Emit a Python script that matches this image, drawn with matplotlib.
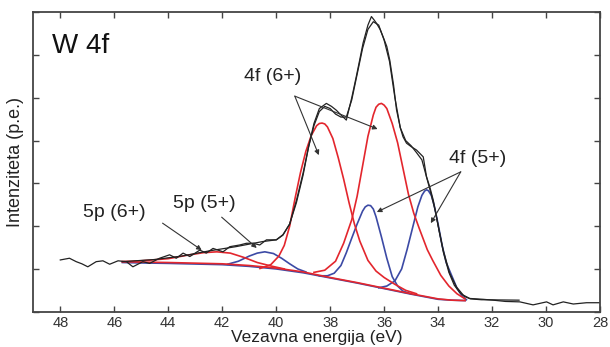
import matplotlib
matplotlib.use("Agg")
import matplotlib.pyplot as plt

plt.rcParams['font.family'] = ['Liberation Sans', 'DejaVu Sans']

# binding energy (eV) / intensity (arb. units)
raw_x = [48.0, 47.66, 47.41, 47.2, 46.98, 46.67, 46.42, 46.17, 45.86, 45.55, 45.31,
         44.94, 44.69, 44.32, 43.95, 43.7, 43.45, 43.2, 42.83, 42.59, 42.34, 41.97,
         41.72, 41.35, 41.1, 40.86, 40.61, 40.36, 39.99, 39.75, 39.5, 39.25, 39.0,
         38.8, 38.6, 38.4, 38.14, 37.95, 37.77, 37.6, 37.4, 37.2, 37.03, 36.9, 36.78,
         36.6, 36.47, 36.37, 36.28, 36.15, 36.04, 35.9, 35.79, 35.65, 35.54, 35.4,
         35.3, 35.17, 35.0, 34.8, 34.55, 34.43, 34.3, 34.18, 33.99, 33.81, 33.57,
         33.32, 33.07, 32.83, 32.33, 31.96, 31.5, 30.97, 30.48, 29.98, 29.74, 29.36,
         28.99, 28.5, 28.0]
raw_y = [1.21, 1.25, 1.17, 1.12, 1.05, 1.17, 1.19, 1.11, 1.19, 1.17, 1.05,
         1.17, 1.13, 1.25, 1.33, 1.25, 1.37, 1.29, 1.44, 1.37, 1.48, 1.40,
         1.52, 1.56, 1.60, 1.60, 1.56, 1.68, 1.68, 1.79, 2.05, 2.55, 3.20,
         3.85, 4.40, 4.75, 4.87, 4.80, 4.71, 4.60, 4.48, 5.00, 5.50, 5.90, 6.28,
         6.70, 6.90, 6.82, 6.74, 6.60, 6.43, 6.20, 5.88, 5.30, 4.72, 4.30,
         4.09, 3.94, 3.86, 3.78, 3.62, 3.16, 2.90, 2.61, 1.99, 1.44, 0.90,
         0.58, 0.39, 0.31, 0.29, 0.27, 0.24, 0.23, 0.16, 0.23, 0.16, 0.23,
         0.18, 0.21, 0.21]

fit_x = [45.7, 44.5, 43.5, 42.5, 42.0, 41.5, 41.0, 40.5, 40.0, 39.75, 39.5, 39.25,
         39.0, 38.8, 38.6, 38.4, 38.2, 38.0, 37.8, 37.6, 37.4, 37.2, 37.0, 36.8,
         36.6, 36.4, 36.2, 36.0, 35.8, 35.6, 35.4, 35.2, 35.0, 34.8, 34.6, 34.45,
         34.3, 34.1, 33.95, 33.8, 33.6, 33.4, 33.2, 33.0, 32.8, 32.4, 31.0]
fit_y = [1.17, 1.22, 1.30, 1.42, 1.47, 1.52, 1.58, 1.64, 1.68, 1.80, 2.05, 2.60,
         3.25, 3.85, 4.35, 4.68, 4.80, 4.75, 4.62, 4.55, 4.55, 4.95, 5.55, 6.15,
         6.60, 6.78, 6.70, 6.35, 5.85, 5.00, 4.30, 4.00, 3.88, 3.72, 3.55, 3.20,
         2.85, 2.35, 1.85, 1.38, 0.92, 0.62, 0.45, 0.35, 0.30, 0.28, 0.27]

bg_x = [45.7, 45.0, 44.0, 43.0, 42.0, 41.0, 40.0, 39.0, 38.0, 37.0, 36.0, 35.0, 34.0, 33.5, 33.0]
bg_red_y = [1.17, 1.16, 1.15, 1.135, 1.12, 1.08, 1.02, 0.93, 0.80, 0.68, 0.55, 0.42, 0.30, 0.27, 0.26]
bg_blue_y = [1.15, 1.14, 1.13, 1.115, 1.10, 1.06, 1.00, 0.91, 0.79, 0.67, 0.54, 0.41, 0.29, 0.27, 0.26]

# W 5p (6+)
p5_6_x = [45.7, 45.0, 44.0, 43.3, 42.7, 42.2, 41.7, 41.2, 40.7, 40.2, 39.7]
p5_6_y = [1.17, 1.19, 1.24, 1.32, 1.38, 1.40, 1.37, 1.27, 1.15, 1.07, 1.00]
# W 5p (5+)
p5_5_x = [41.8, 41.4, 41.0, 40.7, 40.42, 40.1, 39.8, 39.5, 39.2, 38.9]
p5_5_y = [1.11, 1.18, 1.30, 1.37, 1.40, 1.36, 1.25, 1.12, 1.00, 0.93]
# W 4f5/2 (6+)
f6a_x = [40.6, 40.2, 39.9, 39.7, 39.5, 39.3, 39.1, 38.9, 38.7, 38.5, 38.4, 38.3, 38.2,
         38.1, 37.9, 37.7, 37.5, 37.3, 37.1, 36.9, 36.6, 36.3, 36.0, 35.6, 35.2, 34.8]
f6a_y = [1.01, 1.10, 1.30, 1.55, 2.00, 2.65, 3.25, 3.75, 4.12, 4.35, 4.40, 4.41, 4.39,
         4.32, 4.05, 3.60, 3.10, 2.55, 2.05, 1.65, 1.20, 0.95, 0.80, 0.64, 0.50, 0.42]
# W 4f7/2 (6+)
f6b_x = [38.6, 38.2, 37.8, 37.5, 37.2, 37.0, 36.8, 36.6, 36.4, 36.3, 36.2, 36.1, 36.0,
         35.9, 35.7, 35.5, 35.3, 35.1, 34.9, 34.7, 34.4, 34.2, 33.9, 33.6, 33.3, 33.0]
f6b_y = [0.92, 0.97, 1.18, 1.60, 2.15, 2.70, 3.40, 4.10, 4.60, 4.78, 4.85, 4.87, 4.83,
         4.75, 4.40, 3.95, 3.35, 2.75, 2.30, 1.95, 1.45, 1.20, 0.85, 0.60, 0.42, 0.30]
# W 4f5/2 (5+)
f5a_x = [38.4, 38.1, 37.85, 37.6, 37.4, 37.2, 37.0, 36.8, 36.7, 36.6, 36.5, 36.4, 36.3,
         36.1, 35.9, 35.7, 35.5, 35.3, 35.0]
f5a_y = [0.84, 0.84, 0.90, 1.08, 1.38, 1.72, 2.05, 2.35, 2.45, 2.49, 2.48, 2.40, 2.22,
         1.75, 1.25, 0.82, 0.60, 0.48, 0.42]
# W 4f7/2 (5+)
f5b_x = [36.2, 35.9, 35.6, 35.35, 35.15, 34.95, 34.75, 34.6, 34.5, 34.43, 34.36, 34.25,
         34.15, 34.0, 33.85, 33.7, 33.5, 33.3, 33.1, 32.95]
f5b_y = [0.56, 0.60, 0.72, 1.00, 1.45, 1.95, 2.45, 2.72, 2.82, 2.85, 2.83, 2.72,
         2.50, 2.05, 1.55, 1.15, 0.85, 0.55, 0.36, 0.28]

red = '#e3262d'
blue = '#3c4aa5'
dark = '#222222'

fig = plt.figure(figsize=(6.1, 3.47), dpi=100)
ax = fig.add_axes([0.0546, 0.1017, 0.9290, 0.8629])

ax.plot(bg_x, bg_blue_y, color=blue, lw=1.2)
ax.plot(p5_5_x, p5_5_y, color=blue, lw=1.2)
ax.plot(f5a_x, f5a_y, color=blue, lw=1.2)
ax.plot(f5b_x, f5b_y, color=blue, lw=1.2)
ax.plot(bg_x, bg_red_y, color=red, lw=1.2)
ax.plot(p5_6_x, p5_6_y, color=red, lw=1.2)
ax.plot(f6a_x, f6a_y, color=red, lw=1.2)
ax.plot(f6b_x, f6b_y, color=red, lw=1.2)
ax.plot(fit_x, fit_y, color=dark, lw=0.9)
ax.plot(raw_x, raw_y, color=dark, lw=0.9)

ax.set_xlim(49, 28)
ax.set_ylim(0, 7)
ax.set_xticks(range(48, 27, -2))
ax.set_yticks(range(0, 8))
ax.set_yticklabels([])
ax.tick_params(direction='in', top=True, right=True, length=4, width=1,
               color='#444444', labelsize=10.5, labelcolor='#333333', pad=3)
for s in ax.spines.values():
    s.set_color('#444444')
    s.set_linewidth(1.3)

ax.set_xlabel('Vezavna energija (eV)', fontsize=12.5, color='#222222', labelpad=0)
ax.set_ylabel('Intenziteta (p.e.)', fontsize=13, color='#222222', labelpad=4)

ax.text(48.3, 6.22, 'W 4f', fontsize=20, color='#111111', va='center', ha='left')

arr = dict(arrowstyle='-|>', lw=0.8, color='#333333', mutation_scale=7,
           shrinkA=0, shrinkB=0)
ax.text(40.13, 5.51, '4f (6+)', fontsize=14, ha='center', va='center', color='#222222')
ax.annotate('', xy=(38.42, 3.66), xytext=(39.31, 5.04), arrowprops=arr)
ax.annotate('', xy=(36.24, 4.27), xytext=(39.31, 5.04), arrowprops=arr)

ax.text(32.53, 3.59, '4f (5+)', fontsize=14, ha='center', va='center', color='#222222')
ax.annotate('', xy=(36.27, 2.33), xytext=(33.16, 3.27), arrowprops=arr)
ax.annotate('', xy=(34.27, 2.07), xytext=(33.16, 3.27), arrowprops=arr)

ax.text(42.65, 2.54, '5p (5+)', fontsize=14, ha='center', va='center', color='#222222')
ax.annotate('', xy=(40.72, 1.49), xytext=(42.02, 2.21), arrowprops=arr)

ax.text(45.99, 2.33, '5p (6+)', fontsize=14, ha='center', va='center', color='#222222')
ax.annotate('', xy=(42.76, 1.44), xytext=(44.21, 2.07), arrowprops=arr)

fig.savefig('out.png', dpi=100)
